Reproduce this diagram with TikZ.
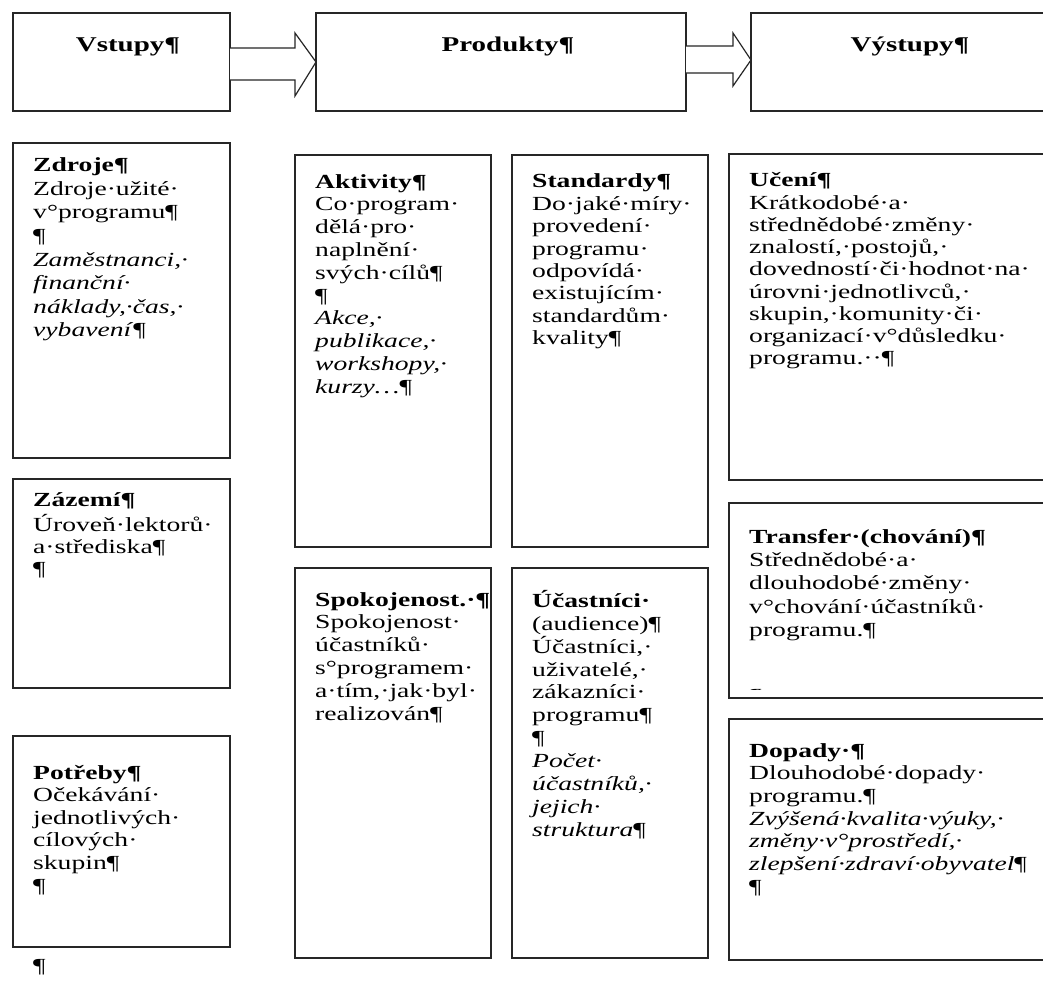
\documentclass[tikz,border=0pt]{standalone}
\usepackage{fontspec}
\setmainfont{Liberation Serif}[FakeStretch=1.38]
\usetikzlibrary{calc}
\begin{document}
\begin{tikzpicture}[x=1pt,y=-1pt,
  box/.style={draw=black!85, line width=1.3pt, anchor=north west, inner sep=0pt, outer sep=0pt},
  txt/.style={anchor=north west, inner sep=0pt, align=left, text width=320pt, font=\fontsize{20}{#1}\selectfont},
  txt/.default=22.7,
  hd/.style={anchor=base, inner sep=0pt, font=\fontsize{21}{24}\selectfont\bfseries},
  barrow/.style={draw=black!85, line width=1.2pt, fill=white, line join=miter}]
\clip (0,0) rectangle (1043,983);
\fill[white] (0,0) rectangle (1043,983);
% header boxes
\node[box, minimum width=217pt, minimum height=98pt] (vst) at (13,13) {};
\node[box, minimum width=370pt, minimum height=98pt] (prod) at (316,13) {};
\node[box, minimum width=330pt, minimum height=98pt] (vyst) at (751,13) {};
\node[hd] (hvst) at (128,51) {Vstupy¶};
\node[hd] (hprod) at (508,51) {Produkty¶};
\node[hd] (hvyst) at (910,51) {Výstupy¶};
% block arrows
\draw[barrow] ($(vst.north east)+(0,35)$) -- ($(vst.north east)+(65,35)$) -- ($(vst.north east)+(65,20)$) -- ($(prod.north west)+(0,49)$) -- ($(vst.north east)+(65,83)$) -- ($(vst.north east)+(65,67)$) -- ($(vst.north east)+(0,67)$);
\draw[barrow] ($(prod.north east)+(0,33)$) -- ($(prod.north east)+(47,33)$) -- ($(prod.north east)+(47,20)$) -- ($(vyst.north west)+(0,47)$) -- ($(prod.north east)+(47,73)$) -- ($(prod.north east)+(47,60)$) -- ($(prod.north east)+(0,60)$);
% column boxes
\node[box, minimum width=217pt, minimum height=315pt] (zdroje) at (13,143) {};
\node[box, minimum width=217pt, minimum height=209pt] (zazemi) at (13,479) {};
\node[box, minimum width=217pt, minimum height=211pt] (potreby) at (13,736) {};
\node[box, minimum width=196pt, minimum height=392pt] (akt) at (295,155) {};
\node[box, minimum width=196pt, minimum height=392pt] (std) at (512,155) {};
\node[box, minimum width=196pt, minimum height=390pt] (spok) at (295,568) {};
\node[box, minimum width=196pt, minimum height=390pt] (ucast) at (512,568) {};
\node[box, minimum width=340pt, minimum height=326pt] (uceni) at (729,154) {};
\node[box, minimum width=340pt, minimum height=195pt] (transfer) at (729,503) {};
\node[box, minimum width=340pt, minimum height=241pt] (dopady) at (729,719) {};
% texts
\node[txt=23.6] (tzdroje) at ($(zdroje.north west)+(20,12)$) {\strut\textbf{Zdroje¶}\\
Zdroje·užité·\\ v°programu¶\\ ¶\\ \textit{Zaměstnanci,·}\\ \textit{finanční·}\\ \textit{náklady,·čas,·}\\ \textit{vybavení}¶};
\node[txt=22] (tzazemi) at ($(zazemi.north west)+(20,12)$) {\strut\textbf{Zázemí¶}\\
Úroveň·lektorů·\\ a·střediska¶\\ ¶};
\node[txt=22.6] (tpotreby) at ($(potreby.north west)+(20,27)$) {\strut\textbf{Potřeby¶}\\
Očekávání·\\ jednotlivých·\\ cílových·\\ skupin¶\\ ¶};
\node[anchor=base west, inner sep=0pt, font=\fontsize{20}{22.7}\selectfont] (tpil) at ($(potreby.south west)+(20,25)$) {¶};
\node[txt=22.8] (takt) at ($(akt.north west)+(20,17)$) {\strut\textbf{Aktivity¶}\\
Co·program·\\ dělá·pro·\\ naplnění·\\ svých·cílů¶\\ ¶\\ \textit{Akce,·}\\ \textit{publikace,·}\\ \textit{workshopy,·}\\ \textit{kurzy…}¶};
\node[txt=22.4] (tstd) at ($(std.north west)+(20,17)$) {\strut\textbf{Standardy¶}\\
Do·jaké·míry·\\ provedení·\\ programu·\\ odpovídá·\\ existujícím·\\ standardům·\\ kvality¶};
\node[txt=22.8] (tspok) at ($(spok.north west)+(20,22)$) {\strut\textbf{Spokojenost.·¶}\\
Spokojenost·\\ účastníků·\\ s°programem·\\ a·tím,·jak·byl·\\ realizován¶};
\node[txt=22.9] (tucast) at ($(ucast.north west)+(20,22)$) {\strut\textbf{Účastníci·}\\
(audience)¶\\ Účastníci,·\\ uživatelé,·\\ zákazníci·\\ programu¶\\ ¶\\ \textit{Počet·}\\ \textit{účastníků,·}\\ \textit{jejich·}\\ \textit{struktura}¶};
\node[txt=22.25] (tuceni) at ($(uceni.north west)+(20,17)$) {\strut\textbf{Učení¶}\\
Krátkodobé·a·\\ střednědobé·změny·\\ znalostí,·postojů,·\\ dovedností·či·hodnot·na·\\ úrovni·jednotlivců,·\\ skupin,·komunity·či·\\ organizací·v°důsledku·\\ programu.··¶};
\node[txt=23.25] (ttransfer) at ($(transfer.north west)+(20,24)$) {\strut\textbf{Transfer·(chování)¶}\\
Střednědobé·a·\\ dlouhodobé·změny·\\ v°chování·účastníků·\\ programu.¶};
\begin{scope}
\clip (transfer.north west) rectangle ($(transfer.south east)+(0,-9)$);
\node[anchor=base west, inner sep=0pt, font=\fontsize{20}{22.7}\selectfont] (tcut) at ($(transfer.north west)+(20,199)$) {¶};
\end{scope}
\node[txt=22.7] (tdopady) at ($(dopady.north west)+(20,22)$) {\strut\textbf{Dopady·¶}\\
Dlouhodobé·dopady·\\ programu.¶\\ \textit{Zvýšená·kvalita·výuky,·}\\ \textit{změny·v°prostředí,·}\\ \textit{zlepšení·zdraví·obyvatel}¶\\ ¶};
\end{tikzpicture}
\end{document}
